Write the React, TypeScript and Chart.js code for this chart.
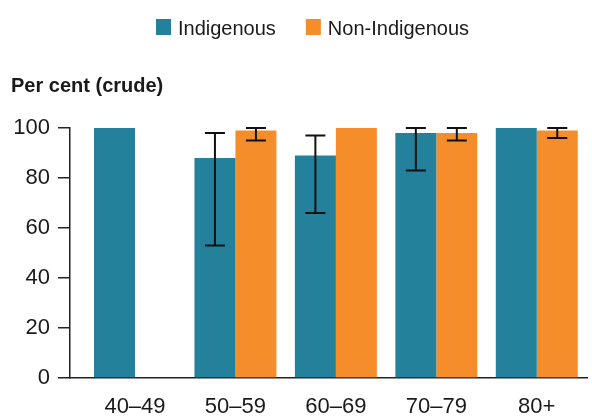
import React, { useEffect, useRef } from 'react';
import { Chart, registerables } from 'chart.js';

Chart.register(...registerables);

// ---- data ----
const categories = ['40–49', '50–59', '60–69', '70–79', '80+'];
const seriesNames = ['Indigenous', 'Non-Indigenous'];
const indigenous: (number | null)[] = [100, 88, 89, 98, 100];
const nonIndigenous: (number | null)[] = [null, 99, 100, 98, 99];
const indigenousLow: (number | null)[] = [null, 53, 66, 83, null];
const indigenousHigh: (number | null)[] = [null, 98, 97, 100, null];
const nonIndigenousLow: (number | null)[] = [null, 95, null, 95, 96];
const nonIndigenousHigh: (number | null)[] = [null, 100, null, 100, 100];
const yMin = 0;
const yMax = 100;
const yStep = 20;
const yTitle = 'Per cent (crude)';

// ---- style ----
const FONT = '"Liberation Sans", Arial, Helvetica, sans-serif';
const TEXT = '#1a1a1a';
const AXIS = '#222222';
const COLORS = ['#24819B', '#F68D2B'];

const errorLows = [indigenousLow, nonIndigenousLow];
const errorHighs = [indigenousHigh, nonIndigenousHigh];

const errorBarPlugin = {
  id: 'errorBars',
  afterDatasetsDraw(chart: any) {
    const ctx = chart.ctx;
    const yScale = chart.scales.y;
    ctx.save();
    ctx.strokeStyle = '#111111';
    ctx.lineWidth = 2;
    chart.data.datasets.forEach((_ds: any, d: number) => {
      const meta = chart.getDatasetMeta(d);
      meta.data.forEach((bar: any, i: number) => {
        const lo = errorLows[d][i];
        const hi = errorHighs[d][i];
        if (lo == null || hi == null) return;
        const x = bar.x;
        const yLo = yScale.getPixelForValue(lo);
        const yHi = yScale.getPixelForValue(hi);
        const cap = 10;
        ctx.beginPath();
        ctx.moveTo(x, yLo);
        ctx.lineTo(x, yHi);
        ctx.moveTo(x - cap, yLo);
        ctx.lineTo(x + cap, yLo);
        ctx.moveTo(x - cap, yHi);
        ctx.lineTo(x + cap, yHi);
        ctx.stroke();
      });
    });
    ctx.restore();
  },
};

const legendTitlePlugin = {
  id: 'legendTitle',
  afterDraw(chart: any) {
    const ctx = chart.ctx;
    ctx.save();
    ctx.font = `20px ${FONT}`;
    ctx.textBaseline = 'alphabetic';
    ctx.textAlign = 'left';
    let x = 156;
    chart.data.datasets.forEach((ds: any) => {
      ctx.fillStyle = ds.backgroundColor;
      ctx.fillRect(x, 19, 15, 16);
      ctx.fillStyle = TEXT;
      const tx = x + 15 + 7;
      ctx.fillText(ds.label, tx, 35);
      x = tx + ctx.measureText(ds.label).width + 30;
    });
    ctx.font = `bold 20px ${FONT}`;
    ctx.fillStyle = TEXT;
    ctx.fillText(yTitle, 11, 92);
    ctx.restore();
  },
};

export default function App() {
  const canvasRef = useRef<HTMLCanvasElement | null>(null);

  useEffect(() => {
    if (!canvasRef.current) return;
    const chart = new Chart(canvasRef.current, {
      type: 'bar',
      data: {
        datasets: [
          {
            label: seriesNames[0],
            data: indigenous.map((v, i) => ({ x: i, y: v })) as any,
            backgroundColor: COLORS[0],
            borderWidth: 0,
            barPercentage: 1,
            categoryPercentage: 0.816,
          },
          {
            label: seriesNames[1],
            data: nonIndigenous.map((v, i) => ({ x: i, y: v })) as any,
            backgroundColor: COLORS[1],
            borderWidth: 0,
            barPercentage: 1,
            categoryPercentage: 0.816,
          },
        ],
      },
      options: {
        responsive: false,
        animation: false,
        devicePixelRatio: 1,
        layout: { padding: { top: 128, right: 5, left: 0, bottom: 0 } },
        plugins: {
          legend: { display: false },
          tooltip: { enabled: false },
          title: { display: false },
        },
        scales: {
          x: {
            type: 'linear',
            offset: false,
            min: -0.647,
            max: 4.5,
            grid: { display: false, drawTicks: false },
            border: { display: true, color: AXIS, width: 1.5 },
            ticks: {
              stepSize: 1,
              includeBounds: false,
              autoSkip: false,
              maxRotation: 0,
              padding: 16,
              color: TEXT,
              font: { family: FONT, size: 22 },
              callback: (v: any) => (Number.isInteger(v) ? categories[v] ?? '' : ''),
            },
            afterFit: (s: any) => {
              s.height = 39;
            },
          },
          y: {
            min: yMin,
            max: yMax,
            grid: {
              display: true,
              drawOnChartArea: false,
              drawTicks: true,
              tickLength: 12,
              color: AXIS,
              lineWidth: 1.5,
            },
            border: { display: true, color: AXIS, width: 1.5 },
            ticks: {
              stepSize: yStep,
              padding: 8,
              color: TEXT,
              font: { family: FONT, size: 22 },
            },
            afterFit: (s: any) => {
              s.width = 70;
            },
          },
        },
      } as any,
      plugins: [errorBarPlugin, legendTitlePlugin],
    });
    return () => chart.destroy();
  }, []);

  return (
    <div style={{ position: 'absolute', left: 0, top: 0, width: 592, height: 417, background: '#fff' }}>
      <canvas ref={canvasRef} width={592} height={417} style={{ display: 'block' }} />
    </div>
  );
}
